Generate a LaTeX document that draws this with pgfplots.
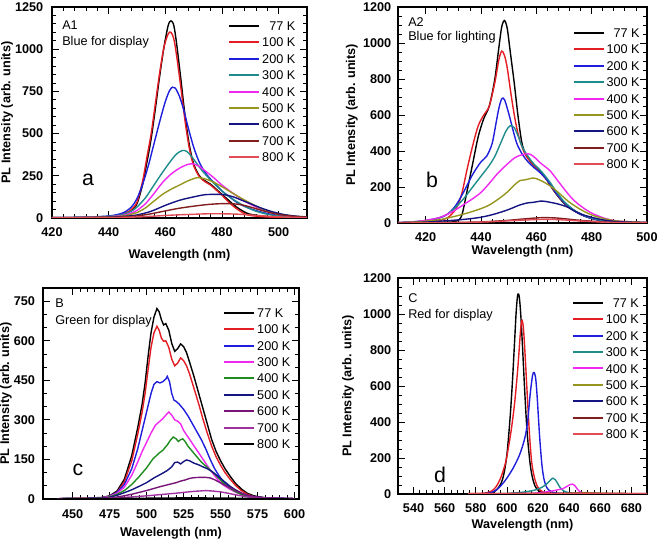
\documentclass[border=0pt]{standalone}
\usepackage{pgfplots}
\pgfplotsset{compat=1.18}
\usepackage{fontspec}
\setmainfont{Liberation Sans}
\definecolor{cred}{RGB}{228,28,36}
\definecolor{cblue}{RGB}{30,30,220}
\definecolor{cteal}{RGB}{30,140,140}
\definecolor{cmag}{RGB}{240,40,240}
\definecolor{colive}{RGB}{150,150,30}
\definecolor{cnavy}{RGB}{20,20,130}
\definecolor{cdred}{RGB}{130,30,30}
\definecolor{clred}{RGB}{225,75,85}
\definecolor{cgreen}{RGB}{30,140,30}
\definecolor{cpur}{RGB}{120,20,120}
\definecolor{cpur2}{RGB}{160,50,160}
\newcommand{\tf}{\fontsize{9.5}{11}\selectfont}
\pgfplotsset{
  plbase/.style={
    scale only axis,
    axis line style={line width=0.8pt},
    tick style={line width=0.6pt,black},
    major tick length=5pt, minor tick length=2.8pt,
    tick align=inside,
    minor x tick num=4,
    /pgf/number format/assume math mode=true,
    /pgf/number format/set thousands separator={},
    tick label style={font=\bfseries\tf},
    label style={font=\bfseries\tf},
    xlabel={Wavelength (nm)},
    ylabel={PL Intensity (arb. units)},
    every axis plot/.append style={line width=1.05pt},
    legend cell align=left,
    legend style={draw=none, fill=none, inner sep=0pt, row sep=5.5pt, column sep=1.5pt,
      font=\tf, nodes={inner sep=0pt, text height=6.8pt, text depth=0pt}},
    legend image code/.code={\draw[#1,line width=1.5pt] (0pt,0pt) -- (22.5pt,0pt);},
  }
}
\begin{document}
\begin{tikzpicture}
\useasboundingbox (0,0) rectangle (493.5pt,-405.75pt);
% ---------------- panel a
\begin{axis}[plbase, at={(39pt,-163.5pt)}, anchor=south west,
  width=191.25pt, height=158.25pt,
  xmin=420, xmax=510, ymin=0, ymax=1250,
  xtick={420,440,...,500}, ytick={0,250,...,1250}, minor y tick num=4,
  xlabel style={at={(axis description cs:0.5,-0.175)}, anchor=center},
  ylabel style={at={(axis description cs:-0.176,0.5)}, anchor=center},
  yticklabel style={xshift=-3pt}, xticklabel style={yshift=-3.5pt},
  legend style={at={(axis description cs:0.690,0.933)}, anchor=north west},
  every axis plot/.append style={smooth, tension=0.5}]
\addplot[black] coordinates {(420,2)(430,3)(440,8)(445,20)(448,45)(450,85)(452,200)(453.5,330)(455,470)(456.5,650)(458,840)(459.5,1010)(461,1140)(462,1168)(463,1140)(464,1030)(465.5,820)(467,600)(468.5,430)(470,320)(472,250)(474,220)(476,200)(478,170)(480,140)(482,110)(484,80)(486,55)(488,35)(490,22)(495,10)(500,5)(510,2)};
\addplot[cred] coordinates {(420,2)(430,3)(440,8)(445,22)(448,50)(450,95)(452,220)(453.5,360)(455,500)(456.5,680)(458,860)(459.5,1010)(461,1090)(462,1100)(463,1060)(464,960)(465.5,770)(467,570)(468.5,410)(470,310)(472,245)(474,215)(476,195)(478,165)(480,135)(482,100)(484,70)(486,45)(488,25)(490,15)(495,7)(500,4)(510,2)};
\addplot[cblue] coordinates {(420,2)(430,4)(440,12)(445,30)(448,65)(450,115)(452,200)(454,310)(456,440)(458,570)(460,690)(461.5,755)(462.5,775)(463.5,770)(465,720)(466.5,640)(468,540)(470,420)(472,330)(474,270)(476,230)(478,195)(480,160)(483,120)(486,85)(490,55)(495,30)(500,15)(505,8)(510,4)};
\addplot[cteal] coordinates {(420,2)(430,4)(440,10)(445,20)(448,40)(450,65)(453,120)(456,195)(459,270)(462,340)(464,380)(466,400)(467.5,395)(469,370)(471,325)(473,280)(476,225)(480,160)(484,110)(488,70)(492,40)(496,22)(500,12)(505,6)(510,3)};
\addplot[cmag] coordinates {(420,1)(430,3)(440,8)(445,15)(448,30)(450,45)(453,85)(456,145)(459,210)(462,260)(465,295)(468,318)(470,320)(472,305)(474,280)(477,240)(480,195)(484,145)(488,100)(492,65)(496,38)(500,22)(505,10)(510,5)};
\addplot[colive] coordinates {(420,1)(430,3)(440,7)(445,12)(448,22)(450,32)(453,60)(456,100)(459,140)(462,170)(465,195)(468,220)(471,238)(473,236)(476,220)(479,195)(482,165)(486,125)(490,88)(494,55)(498,32)(502,18)(506,10)(510,5)};
\addplot[cnavy] coordinates {(420,1)(430,2)(440,5)(445,9)(450,18)(455,40)(460,75)(465,105)(470,125)(474,138)(478,140)(481,138)(484,125)(487,105)(490,85)(494,58)(498,36)(502,20)(506,11)(510,6)};
\addplot[cdred] coordinates {(420,1)(430,2)(440,4)(445,6)(450,12)(455,25)(460,42)(465,58)(470,70)(475,80)(480,85)(484,84)(487,78)(490,65)(494,45)(498,28)(502,16)(506,9)(510,5)};
\addplot[clred] coordinates {(420,0.5)(440,2)(450,6)(455,10)(460,15)(465,19)(470,22)(475,25)(480,25)(485,23)(490,18)(495,12)(500,7)(505,4)(510,2)};
\legend{\hphantom{0}77 K,100 K,200 K,300 K,400 K,500 K,600 K,700 K,800 K}
\end{axis}
% ---------------- panel b
\begin{axis}[plbase, at={(298.5pt,-167.25pt)}, anchor=south west,
  width=186.75pt, height=162pt,
  xmin=410, xmax=500, ymin=0, ymax=1200,
  xtick={420,440,...,500}, ytick={0,200,...,1200}, minor y tick num=3,
  xlabel style={at={(axis description cs:0.5,-0.130)}, anchor=center},
  ylabel style={at={(axis description cs:-0.185,0.5)}, anchor=center},
  yticklabel style={xshift=-1.5pt}, xticklabel style={yshift=-3.5pt},
  legend style={at={(axis description cs:0.700,0.902)}, anchor=north west},
  every axis plot/.append style={smooth, tension=0.5}]
\addplot[black] coordinates {(410,1)(420,3)(428,5)(431,10)(433,40)(435,180)(437,330)(439,480)(441,580)(443,650)(445,800)(446.5,980)(447.5,1090)(448.5,1125)(449.5,1080)(450.5,960)(452,780)(453.5,580)(455,430)(457,360)(459,320)(461,290)(463,260)(465,210)(467,165)(470,110)(474,65)(478,35)(483,15)(490,5)(500,2)};
\addplot[cred] coordinates {(410,2)(420,8)(425,15)(428,30)(431,80)(433,160)(435,300)(437,430)(439,540)(441,600)(443,650)(445,780)(446.5,910)(447.5,955)(448.5,930)(449.5,860)(451,700)(452.5,560)(454,460)(456,380)(458,340)(460,305)(462,270)(464,235)(466,190)(469,130)(473,75)(477,42)(482,18)(490,6)(500,2)};
\addplot[cblue] coordinates {(410,2)(415,5)(420,12)(425,28)(428,50)(431,100)(434,180)(437,270)(440,340)(442,370)(444,440)(445.5,560)(446.5,640)(447.5,690)(448.5,685)(450,610)(451.5,520)(453,440)(455,380)(457,340)(459,310)(461,285)(463,255)(465,215)(467,170)(470,115)(474,65)(478,35)(483,15)(490,5)(500,2)};
\addplot[cteal] coordinates {(410,2)(415,6)(420,14)(425,30)(428,50)(431,90)(434,140)(437,200)(440,260)(443,320)(445,370)(447,440)(449,510)(450.5,540)(452,530)(453.5,480)(455,420)(457,370)(459,330)(461,300)(463,265)(465,225)(467,180)(470,120)(474,68)(478,38)(483,16)(490,5)(500,2)};
\addplot[cmag] coordinates {(410,2)(415,6)(420,15)(425,30)(428,50)(431,75)(434,105)(437,135)(440,170)(443,220)(446,275)(449,320)(452,360)(454,375)(457,385)(459,370)(461,340)(463,315)(465,290)(467,250)(470,190)(473,135)(476,95)(480,55)(485,25)(490,10)(500,3)};
\addplot[colive] coordinates {(410,2)(415,5)(420,10)(425,18)(430,35)(435,55)(440,80)(443,100)(446,130)(449,165)(452,210)(454,235)(456,240)(459,250)(461,240)(463,225)(466,195)(469,155)(472,115)(476,75)(480,45)(485,22)(490,10)(500,3)};
\addplot[cnavy] coordinates {(410,1)(420,5)(425,10)(430,15)(435,22)(440,32)(445,50)(450,75)(454,100)(457,112)(459,115)(462,122)(465,115)(468,105)(471,90)(474,65)(477,45)(481,28)(485,15)(490,7)(500,2)};
\addplot[cdred] coordinates {(410,0)(425,2)(435,4)(440,6)(445,10)(450,15)(455,22)(460,28)(463,30)(467,28)(470,24)(475,16)(480,10)(485,5)(490,3)(500,1)};
\addplot[clred] coordinates {(410,0)(425,1)(435,3)(440,5)(445,8)(450,12)(455,16)(460,19)(465,20)(470,17)(475,12)(480,8)(485,4)(490,2)(500,1)};
\legend{\hphantom{0}77 K,100 K,200 K,300 K,400 K,500 K,600 K,700 K,800 K}
\end{axis}
% ---------------- panel c
\begin{axis}[plbase, at={(32.25pt,-374.25pt)}, anchor=south west,
  width=192pt, height=158.25pt,
  xmin=430, xmax=603, ymin=0, ymax=800,
  xtick={450,475,...,600}, ytick={0,150,...,750}, minor y tick num=2,
  xlabel style={at={(axis description cs:0.5,-0.161)}, anchor=center},
  ylabel style={at={(axis description cs:-0.145,0.5)}, anchor=center},
  yticklabel style={xshift=-2.5pt}, xticklabel style={yshift=-4.5pt},
  legend style={at={(axis description cs:0.703,0.905)}, anchor=north west}]
\addplot[black] coordinates {(440,1)(450,3)(460,3)(470,6)(475,12)(480,30)(485,75)(490,165)(494,270)(497,360)(499,440)(501,540)(503,630)(505,690)(507,722)(508.5,710)(510,680)(511.5,660)(513,665)(515,640)(517,590)(519,560)(521,570)(523,588)(525,578)(527,555)(529,520)(532,465)(535,405)(538,345)(541,285)(544,225)(547,180)(550,145)(553,115)(556,90)(560,60)(564,38)(568,22)(572,13)(576,8)(580,5)(590,2)(600,1)};
\addplot[cred] coordinates {(440,1)(450,2)(460,3)(470,5)(475,10)(480,25)(485,65)(490,145)(494,245)(497,330)(499,400)(501,490)(503,575)(505,630)(507,655)(508.5,640)(510,610)(511.5,598)(513,600)(515,575)(517,530)(519,505)(521,515)(523,535)(525,525)(527,505)(529,475)(532,420)(535,365)(538,305)(541,250)(544,200)(547,160)(550,128)(553,100)(556,78)(560,52)(564,32)(568,18)(572,10)(576,6)(580,4)(590,2)(600,1)};
\addplot[cblue] coordinates {(440,1)(460,2)(470,5)(475,10)(480,25)(485,55)(490,115)(494,190)(497,260)(500,330)(503,400)(505,435)(507,445)(509,440)(511,445)(513,455)(514,465)(515.5,445)(517,400)(518.5,375)(520,370)(522,360)(525,340)(528,315)(531,285)(534,255)(537,225)(540,190)(543,150)(546,115)(549,88)(552,65)(556,45)(560,30)(565,17)(570,10)(580,4)(600,1)};
\addplot[cmag] coordinates {(440,1)(460,2)(470,5)(475,10)(480,22)(485,45)(490,90)(494,140)(497,180)(500,215)(503,250)(506,280)(509,295)(511,305)(513,318)(515,330)(517,318)(519,300)(521,295)(523,285)(525,260)(528,235)(531,210)(534,185)(537,160)(540,135)(543,110)(546,88)(549,68)(552,52)(556,38)(560,26)(565,15)(570,8)(580,3)(600,1)};
\addplot[cgreen] coordinates {(440,1)(460,2)(470,4)(475,8)(480,18)(485,32)(490,55)(495,85)(500,118)(504,150)(508,172)(511,185)(514,205)(516,222)(518,235)(520,228)(521.5,218)(523,225)(524.5,228)(526,218)(528,200)(531,180)(534,160)(537,140)(540,125)(543,110)(546,95)(549,78)(552,60)(556,42)(560,28)(565,15)(570,8)(580,3)(600,1)};
\addplot[cnavy] coordinates {(440,1)(460,2)(470,3)(475,6)(480,14)(485,24)(490,35)(495,48)(500,62)(505,80)(510,95)(514,108)(517,122)(519,138)(521,140)(523,133)(525,142)(527,148)(529,145)(532,136)(535,130)(538,122)(541,115)(544,105)(547,92)(550,78)(553,64)(556,50)(560,35)(565,20)(570,11)(580,4)(600,1)};
\addplot[cpur] coordinates {(440,0)(460,1)(470,2)(480,7)(490,18)(500,32)(505,40)(510,48)(515,55)(520,62)(523,68)(526,72)(529,78)(532,81)(536,82)(540,82)(543,80)(546,73)(549,64)(552,55)(556,44)(560,32)(565,20)(570,11)(580,4)(600,1)};
\addplot[cpur2] coordinates {(440,0)(460,1)(470,2)(480,4)(490,8)(500,12)(510,17)(520,22)(525,25)(530,28)(535,30)(540,32)(545,30)(550,27)(555,22)(560,16)(565,11)(570,7)(580,3)(600,1)};
\addplot[black] coordinates {(440,0)(460,1)(480,2)(500,3)(520,4)(540,4)(560,3)(580,1)(600,0)};
\legend{77 K,100 K,200 K,300 K,400 K,500 K,600 K,700 K,800 K}
\end{axis}
% ---------------- panel d
\begin{axis}[plbase, at={(298.5pt,-370.5pt)}, anchor=south west,
  width=186.75pt, height=162pt,
  xmin=530, xmax=690, ymin=0, ymax=1200,
  xtick={540,560,...,680}, ytick={0,200,...,1200}, minor y tick num=3,
  xlabel style={at={(axis description cs:0.5,-0.1435)}, anchor=center},
  ylabel style={at={(axis description cs:-0.200,0.5)}, anchor=center},
  yticklabel style={xshift=-1.5pt}, xticklabel style={yshift=-3.5pt},
  legend style={at={(axis description cs:0.697,0.907)}, anchor=north west},
  every axis plot/.append style={smooth, tension=0.5}]
\addplot[black] coordinates {(575,0)(585,1)(590,6)(593,20)(596,55)(598,110)(600,220)(602,420)(603.5,620)(605,860)(606,1020)(607,1110)(608,1090)(609,980)(610,820)(611.5,560)(613,340)(615,160)(617,70)(619,30)(622,10)(627,3)(640,1)(690,0)};
\addplot[cred] coordinates {(575,1)(585,4)(590,16)(593,40)(596,90)(599,170)(601,260)(603,370)(605,510)(607,700)(608.5,880)(609.5,965)(610.5,930)(611.5,800)(613,560)(614.5,330)(616,170)(618,80)(620,35)(623,12)(628,4)(640,1)(690,1)};
\addplot[cblue] coordinates {(575,0)(585,2)(590,8)(594,28)(598,65)(602,115)(605,160)(608,215)(610,265)(612,330)(613.5,420)(615,560)(616.5,660)(617.5,675)(618.5,640)(619.5,530)(621,320)(622.5,160)(624,75)(626,30)(630,8)(640,2)(690,0)};
\addplot[cteal] coordinates {(575,0)(590,1)(600,3)(608,8)(614,15)(618,22)(622,35)(625,52)(627,68)(628.5,82)(629.5,88)(631,80)(632.5,60)(634,38)(636,20)(639,9)(645,3)(660,1)(690,0)};
\addplot[cmag] coordinates {(575,0)(600,1)(615,3)(622,8)(628,15)(632,22)(636,30)(638.5,42)(640.5,52)(642,55)(643.5,48)(645,30)(646.5,15)(649,6)(655,2)(690,0)};
\addplot[colive] coordinates {(575,0)(620,1)(635,3)(645,6)(650,8)(655,6)(665,3)(690,0)};
\addplot[cnavy] coordinates {(575,0)(620,1)(650,2)(690,0)};
\addplot[cdred] coordinates {(575,2)(600,3)(630,4)(660,4)(690,2)};
\addplot[clred] coordinates {(575,3)(600,3)(630,3)(660,3)(690,2)};
\legend{\hphantom{0}77 K,100 K,200 K,300 K,400 K,500 K,600 K,700 K,800 K}
\end{axis}
% ---------------- text
\begin{scope}[x=0.75pt,y=-0.75pt, every node/.style={inner sep=0pt, font=\tf}]
\node[anchor=west] at (62,25) {A1};
\node[anchor=west] at (62,42) {Blue for display};
\node[font=\fontsize{16}{18}\selectfont] at (88,180) {a};
\node[anchor=west] at (408,22) {A2};
\node[anchor=west] at (408,37) {Blue for lighting};
\node[font=\fontsize{16}{18}\selectfont] at (432,180) {b};
\node[anchor=west] at (55,303) {B};
\node[anchor=west] at (55,321) {Green for display};
\node[font=\fontsize{16}{18}\selectfont] at (78,470) {c};
\node[anchor=west] at (408,298) {C};
\node[anchor=west] at (408,315) {Red for display};
\node[font=\fontsize{16}{18}\selectfont] at (440,475) {d};
\end{scope}
\end{tikzpicture}
\end{document}
